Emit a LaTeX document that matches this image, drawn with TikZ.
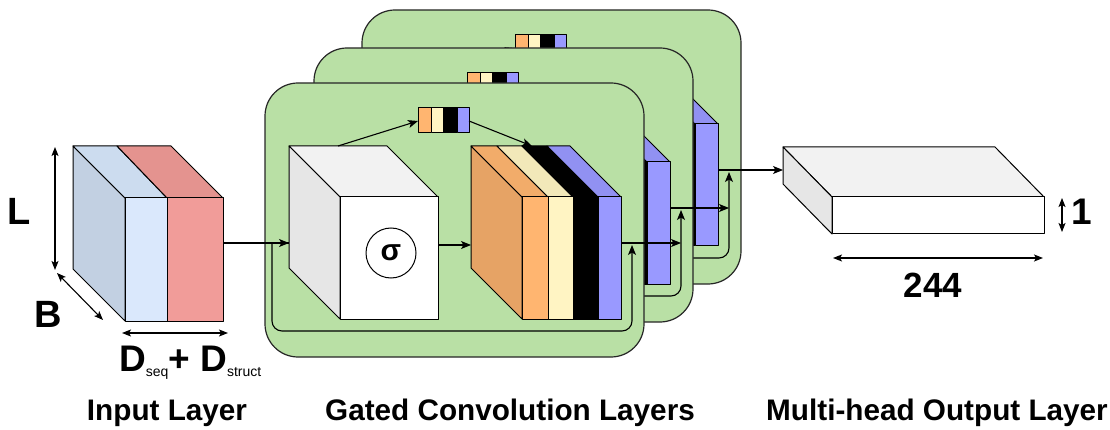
\documentclass[tikz,border=0pt]{standalone}
\usepackage{fontspec}
\setmainfont{Liberation Sans}
\usetikzlibrary{arrows.meta}
\definecolor{pgreen}{HTML}{B9E0A5}
\definecolor{gtop}{HTML}{F2F2F2}
\definecolor{gleft}{HTML}{E6E6E6}
\definecolor{ofront}{HTML}{FFB570}
\definecolor{otop}{HTML}{F2AC6A}
\definecolor{oleft}{HTML}{E6A365}
\definecolor{cfront}{HTML}{FFF4C3}
\definecolor{ctop}{HTML}{F2E8B9}
\definecolor{bfront}{HTML}{9999FF}
\definecolor{btop}{HTML}{9191F2}
\definecolor{ifront}{HTML}{DAE8FC}
\definecolor{itop}{HTML}{CCDCEF}
\definecolor{ileft}{HTML}{C2D0E2}
\definecolor{rfront}{HTML}{F19C99}
\definecolor{rtop}{HTML}{E4938F}
\tikzset{
  ln/.style={line width=1.1pt, draw=black},
  arr/.style={ln, -{Stealth[length=10pt,width=8pt,inset=2.5pt]}},
  dimarr/.style={ln, {Stealth[length=9pt,width=7pt,inset=2pt]}-{Stealth[length=9pt,width=7pt,inset=2pt]}},
  face/.style={line width=1pt, draw=black, line join=round},
  panelbox/.style={fill=pgreen, draw=black!85, line width=1.2pt, rounded corners=33pt},
  lbl/.style={font=\fontsize{29.7}{30}\selectfont\bfseries},
  biglbl/.style={font=\fontsize{38}{38}\selectfont\bfseries},
}
\newcommand\convpanel[2]{%
\begin{scope}[shift={(#1)}]
  \draw[panelbox] (265,83) rectangle (644,357);
  % gray cube
  \filldraw[face, fill=gtop] (289,146) -- (387,146) -- (438,197) -- (340,197) -- cycle;
  \filldraw[face, fill=gleft] (289,146) -- (340,197) -- (340,319) -- (289,268) -- cycle;
  \filldraw[face, fill=white] (340,197) rectangle (438,319);
  \node[circle, draw, fill=white, line width=1pt, minimum size=50pt, inner sep=0pt,
        font=\fontsize{30}{30}\selectfont\bfseries] (#2sig) at (391,253) {σ};
  % coloured cube
  \filldraw[face, fill=oleft] (471,146) -- (522,197) -- (522,319) -- (471,268) -- cycle;
  \filldraw[face, fill=otop] (471,146) -- (497,146) -- (548,197) -- (522,197) -- cycle;
  \filldraw[face, fill=ctop] (497,146) -- (522,146) -- (573,197) -- (548,197) -- cycle;
  \filldraw[face, fill=black] (522,146) -- (547,146) -- (598,197) -- (573,197) -- cycle;
  \filldraw[face, fill=btop] (547,146) -- (570,146) -- (621,197) -- (598,197) -- cycle;
  \filldraw[face, fill=ofront] (522,197) rectangle (548,319);
  \filldraw[face, fill=cfront] (548,197) rectangle (573,319);
  \filldraw[face, fill=black] (573,197) rectangle (598,319);
  \filldraw[face, fill=bfront] (598,197) rectangle (621,319);
  % gate strip
  \filldraw[face, fill=ofront] (418,108) rectangle (431,133);
  \filldraw[face, fill=cfront] (431,108) rectangle (443,133);
  \filldraw[face, fill=black] (443,108) rectangle (457,133);
  \filldraw[face, fill=bfront] (457,108) rectangle (469,133);
  \coordinate (#2sL) at (418,121);
  \coordinate (#2sR) at (469,121);
  \coordinate (#2gtop) at (338,146);
  \coordinate (#2ctop) at (532,146);
  \coordinate (#2gin) at (289,243);
  \coordinate (#2br) at (272,243);
  \coordinate (#2gout) at (438,245);
  \coordinate (#2cin) at (471,245);
  \coordinate (#2cout) at (621,243);
  \coordinate (#2rc) at (632,331);
  \coordinate (#2rtip) at (632,245);
  \draw[arr] (#2gtop) -- (#2sL);
  \draw[arr] (#2sR) -- (#2ctop);
  \draw[arr] (#2gout) -- (#2cin);
  \draw[arr, rounded corners=10pt] (#2br) |- (#2rc) -- (#2rtip);
  \draw[ln] (#2br) -- (#2gin);
\end{scope}}
\begin{document}
\begin{tikzpicture}[x=1pt, y=-1pt]
\useasboundingbox (0,0) rectangle (1110,430);
% ---------- input layer ----------
\filldraw[face, fill=ileft] (73,146) -- (125,198) -- (125,321) -- (73,269) -- cycle;
\filldraw[face, fill=itop] (73,146) -- (117,146) -- (167,198) -- (125,198) -- cycle;
\filldraw[face, fill=rtop] (117,146) -- (171,146) -- (223,198) -- (167,198) -- cycle;
\filldraw[face, fill=ifront] (125,198) rectangle (167,321);
\filldraw[face, fill=rfront] (167,198) rectangle (223,321);
\coordinate (inR) at (223,243);
\coordinate (Ltop) at (55,147);
\coordinate (Lbot) at (55,270);
\coordinate (Btop) at (57,273);
\coordinate (Bbot) at (103,320);
\coordinate (Dl) at (122,333);
\coordinate (Dr) at (228,333);
\draw[dimarr] (Ltop) -- (Lbot);
\draw[dimarr] (Btop) -- (Bbot);
\draw[dimarr] (Dl) -- (Dr);
\node[biglbl] (Llbl) at (19,211) {L};
\node[biglbl] (Blbl) at (48,314) {B};
\node[anchor=base west, inner sep=0pt] (Dlbl) at (119,371)
  {{\fontsize{37}{37}\selectfont\bfseries D}\raisebox{-5pt}{\fontsize{14}{14}\selectfont seq}{\fontsize{37}{37}\selectfont\bfseries + D}\raisebox{-5pt}{\fontsize{14}{14}\selectfont struct}};
% ---------- gated convolution layers ----------
\convpanel{97,-73}{B}
\convpanel{49,-35}{M}
\convpanel{0,0}{F}
\draw[arr] (inR) -- (Fgin);
\draw[arr] (Fcout) -- (Fcout -| Mrc);
\draw[arr] (Mcout) -- (Mcout -| Brc);
% ---------- output layer ----------
\filldraw[face, fill=gtop] (783,147) -- (995,147) -- (1044,197) -- (832,197) -- cycle;
\filldraw[face, fill=gleft] (783,147) -- (832,197) -- (832,234) -- (783,184) -- cycle;
\filldraw[face, fill=white] (832,197) rectangle (1044,234);
\coordinate (outL) at (783,170);
\draw[arr] (Bcout) -- (outL);
\coordinate (Otop) at (1062,198);
\coordinate (Obot) at (1062,232);
\coordinate (Wl) at (833,258);
\coordinate (Wr) at (1043,258);
\draw[dimarr] (Otop) -- (Obot);
\draw[dimarr] (Wl) -- (Wr);
\node[font=\fontsize{37}{37}\selectfont\bfseries] (onelbl) at (1082,212) {1};
\node[font=\fontsize{35}{35}\selectfont\bfseries] (wlbl) at (933,285) {244};
% ---------- captions ----------
\node[lbl] (cap1) at (167,413) {Input Layer};
\node[lbl] (cap2) at (510,413) {Gated Convolution Layers};
\node[lbl] (cap3) at (937,413) {Multi-head Output Layer};
\end{tikzpicture}
\end{document}
